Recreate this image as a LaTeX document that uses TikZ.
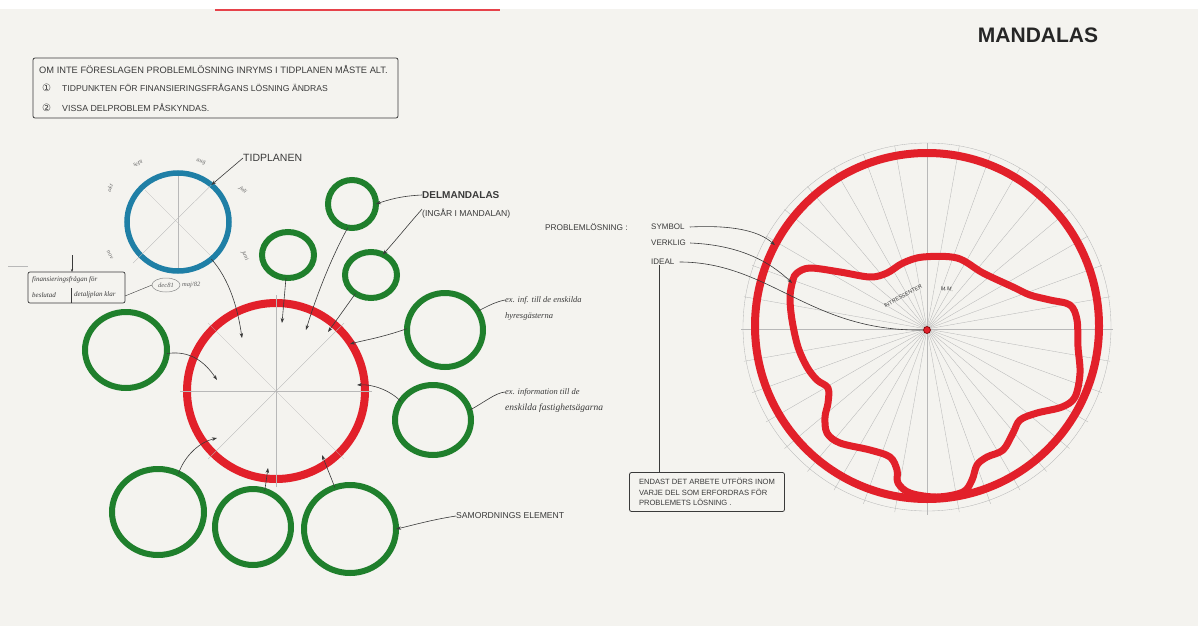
\documentclass[tikz,border=0pt]{standalone}
\usepackage{fontspec}
\setmainfont{Liberation Sans}
\newfontfamily\cursfont{Liberation Serif}
\newfontfamily\symfont{DejaVu Sans}
\usetikzlibrary{shapes.geometric,arrows.meta}
\definecolor{paper}{HTML}{F4F3EF}
\definecolor{grn}{HTML}{1F7F2C}
\definecolor{rd}{HTML}{E2202A}
\definecolor{blu}{HTML}{1F7FA6}
\definecolor{ink}{HTML}{3A3A3A}
\begin{document}
\begin{tikzpicture}[x=1pt,y=-1pt,
  ring/.style={ellipse,inner sep=0pt,outer sep=0pt,draw=#1},
  gring/.style={ring=grn,line width=6pt},
  conn/.style={draw=ink,line width=0.6pt,-{Stealth[length=5pt,width=3.5pt]}},
  cline/.style={draw=ink,line width=0.6pt},
  faint/.style={draw=black!28,line width=0.35pt},
  caps/.style={font=\fontsize{8}{9}\selectfont,text=ink,inner sep=0pt,anchor=west},
  cursive/.style={font=\cursfont\itshape\fontsize{8.5}{9}\selectfont,text=ink,inner sep=0pt,anchor=west},
  tiny/.style={font=\cursfont\itshape\fontsize{6}{6}\selectfont,text=ink!80,inner sep=0pt},
  boxed/.style={draw=ink,line width=0.8pt,rounded corners=2pt},
]
\useasboundingbox (0,0) rectangle (1198,626);
\fill[paper] (0,0) rectangle (1198,626);
\fill[white] (0,0) rectangle (1198,9);
\draw[rd!85,line width=1.5pt] (215,10) -- (500,10);

% ---------- top box ----------
\draw[boxed] (33,58) rectangle (398,118);
\node[caps,font=\fontsize{9.3}{10}\selectfont] (l1) at (39,69) {OM INTE FÖRESLAGEN PROBLEMLÖSNING INRYMS I TIDPLANEN MÅSTE ALT.};
\node[caps,font=\symfont\fontsize{10}{10}\selectfont] (n1) at (42,88) {①};
\node[caps,font=\fontsize{8.6}{9}\selectfont] (l2) at (62,88) {TIDPUNKTEN FÖR FINANSIERINGSFRÅGANS LÖSNING ÄNDRAS};
\node[caps,font=\symfont\fontsize{10}{10}\selectfont] (n2) at (42,108) {②};
\node[caps,font=\fontsize{8.8}{9}\selectfont] (l3) at (62,108) {VISSA DELPROBLEM PÅSKYNDAS.};

% ---------- title ----------
\node[font=\bfseries\fontsize{21}{21}\selectfont,text=black!85] (title) at (1038,35) {MANDALAS};

% ---------- left mandala ----------
\node[ring=blu,line width=5.5pt,minimum width=102pt,minimum height=98pt] (bc) at (178,222) {};
\draw[faint] (bc.48) -- (133,263);
\draw[faint] (178,176) -- (178,268);
\draw[faint] (145,190) -- (210,255);
\node[caps,font=\fontsize{10.5}{10}\selectfont] (tid) at (243,158) {TIDPLANEN};
\draw[conn] (tid.west) -- (bc.48);
\node[tiny,rotate=70] (m1) at (110,188) {okt};
\node[tiny,rotate=25] (m2) at (138,164) {sept};
\node[tiny,rotate=-10] (m3) at (201,162) {aug};
\node[tiny,rotate=-45] (m4) at (243,190) {juli};
\node[tiny,rotate=-65] (m5) at (245,256) {juni};
\node[tiny,rotate=-60] (m6) at (110,255) {nov};

\node[ring=black!45,line width=0.5pt,minimum width=28pt,minimum height=14pt] (ov) at (166,285) {};
\node[tiny,font=\cursfont\itshape\fontsize{6.5}{6.5}\selectfont] (ovt) at (166,285) {dec81};
\node[tiny,anchor=west,font=\cursfont\itshape\fontsize{6.5}{6.5}\selectfont] (maj) at (182,285) {maj/82};
\draw[boxed,line width=0.7pt] (28,272) rectangle (125,303);
\node[cursive,font=\cursfont\itshape\fontsize{7}{7}\selectfont] (fb1) at (32,280) {finansieringsfrågan för};
\node[cursive,font=\cursfont\itshape\fontsize{7}{7}\selectfont] (fb2) at (32,295) {beslutad};
\node[cursive,font=\cursfont\itshape\fontsize{7}{7}\selectfont] (fb3) at (74,295) {detaljplan klar};
\draw[cline,line width=0.4pt] (71,288) -- (71,303);
\coordinate (bxe) at (125,296);
\coordinate (bxt) at (72,272);
\coordinate (bxu) at (72,255);
\draw[cline,line width=0.4pt] (bxe) -- (ov.west);
\draw[cline,line width=0.4pt,-{Stealth[length=3pt]}] (bxu) -- (bxt);
\draw[faint] (8,266) -- (28,266);

\node[ring=rd,line width=8pt,minimum width=178pt,minimum height=176pt] (rc) at (276,391) {};
\foreach \a in {0,45,90,135}
  \draw[faint] (276,391) ++(\a:96) -- ++(\a+180:192);

\node[gring,minimum width=48pt,minimum height=48pt] (g1) at (352,204) {};
\node[gring,minimum width=52pt,minimum height=46pt] (g2) at (288,255) {};
\node[gring,minimum width=52pt,minimum height=46pt] (g3) at (371,275) {};
\node[gring,minimum width=76pt,minimum height=74pt] (g4) at (445,330) {};
\node[gring,minimum width=76pt,minimum height=70pt] (g5) at (433,420) {};
\node[gring,minimum width=82pt,minimum height=76pt] (g6) at (126,350) {};
\node[gring,minimum width=92pt,minimum height=86pt] (g7) at (158,512) {};
\node[gring,minimum width=76pt,minimum height=76pt] (g8) at (253,527) {};
\node[gring,minimum width=92pt,minimum height=88pt] (g9) at (350,529) {};

\coordinate (t1) at (242,338);
\coordinate (t2) at (282,323);
\coordinate (t3) at (306,330);
\coordinate (t4) at (328,332);
\coordinate (t5) at (350,344);
\coordinate (t6) at (357,385);
\coordinate (t7) at (217,380);
\coordinate (t8) at (217,438);
\coordinate (t9) at (268,468);
\coordinate (t10) at (322,455);
\draw[conn] (bc.-48) .. controls (230,280) and (238,310) .. (t1);
\draw[conn] (g2.-95) -- (t2);
\draw[conn] (g1.-100) .. controls (330,260) and (315,300) .. (t3);
\draw[conn] (g3.-130) -- (t4);
\draw[conn] (g4.178) .. controls (380,338) and (365,340) .. (t5);
\draw[conn] (g5.150) .. controls (390,390) and (372,384) .. (t6);
\draw[conn] (g6.-5) .. controls (190,350) and (205,362) .. (t7);
\draw[conn] (g7.62) .. controls (185,455) and (200,442) .. (t8);
\draw[conn] (g8.72) -- (t9);
\draw[conn] (g9.110) -- (t10);

\node[caps,font=\fontsize{10}{10}\selectfont\bfseries] (del) at (422,195) {DELMANDALAS};
\node[caps,font=\fontsize{8.6}{9}\selectfont] (ing) at (422,214) {(INGÅR I MANDALAN)};
\draw[conn] (del.west) .. controls (400,196) and (388,200) .. (g1.east);
\draw[conn] (ing.north west) .. controls (408,225) and (396,240) .. (g3.60);

\node[cursive] (ex1) at (505,300) {ex. inf. till de enskilda};
\node[cursive] (ex1b) at (505,316) {hyresgästerna};
\draw[cline] (g4.30) .. controls (488,306) and (495,302) .. (ex1.west);
\node[cursive] (ex2) at (505,392) {ex. information till de};
\node[cursive,font=\cursfont\itshape\fontsize{9.5}{10}\selectfont] (ex2b) at (505,408) {enskilda fastighetsägarna};
\draw[cline] (g5.15) .. controls (485,402) and (495,393) .. (ex2.west);
\node[caps,font=\fontsize{8.6}{9}\selectfont] (sam) at (456,516) {SAMORDNINGS ELEMENT};
\draw[conn] (sam.west) .. controls (430,520) and (410,526) .. (g9.east);

% ---------- right mandala ----------
\foreach \a in {0,10,...,350}
  \draw[faint] (927,329) -- ++(\a:186);
\draw[faint] (927,327) circle[radius=184];
\node[ring=rd,line width=8pt,minimum width=344pt,minimum height=346pt] (oc) at (927,326) {};
\draw[rd,line width=7pt,line join=round] plot[smooth cycle,tension=0.55] coordinates {
 (797,273) (810,268) (840,272) (870,277) (887,273) (903,263) (923,257) (957,258)
 (983,273) (1013,287) (1030,295) (1050,300) (1070,305) (1077,320) (1078,347)
 (1080,373) (1075,397) (1062,407) (1037,413) (1020,420) (1013,433) (1003,450)
 (987,457) (977,465) (972,480) (963,492) (937,497) (910,493) (898,483) (897,470)
 (890,457) (870,450) (840,443) (827,433) (825,417) (828,403) (828,388) (817,380)
 (807,367) (798,347) (792,320) (790,297) (793,280)};
\node[circle,fill=rd,draw=red!45!black,line width=0.6pt,minimum size=7pt,inner sep=0pt] (cd) at (927,330) {};
\node[font=\fontsize{5.5}{5}\selectfont,text=ink,rotate=29,inner sep=0pt] (intr) at (903,296) {INTRESSENTER};
\node[font=\fontsize{5.5}{5}\selectfont,text=ink,rotate=-8,inner sep=0pt] (mm) at (947,289) {M.M.};

\node[caps,font=\fontsize{8.3}{9}\selectfont] (prob) at (545,227) {PROBLEMLÖSNING :};
\node[caps] (sym) at (651,227) {SYMBOL};
\node[caps] (ver) at (651,243) {VERKLIG};
\node[caps] (ide) at (651,262) {IDEAL};
\coordinate (vb) at (792,283);
\draw[conn] ([xshift=5pt]sym.east) .. controls (730,225) and (758,230) .. (oc.152);
\draw[conn] ([xshift=4pt]ver.east) .. controls (740,245) and (770,262) .. (vb);
\draw[cline] ([xshift=5pt]ide.east) .. controls (770,262) and (810,332) .. (cd.west);

\node[draw=ink,line width=0.8pt,rounded corners=2pt,minimum width=155pt,minimum height=39pt,
  align=left,font=\fontsize{7.6}{10.5}\selectfont,text=ink,inner sep=3pt] (eb) at (707,492)
  {ENDAST DET ARBETE UTFÖRS INOM\\VARJE DEL SOM ERFORDRAS FÖR\\PROBLEMETS LÖSNING .};
\draw[cline] ([xshift=-3pt]ide.south) -- ([xshift=-3pt]ide.south |- eb.north);
\end{tikzpicture}
\end{document}
